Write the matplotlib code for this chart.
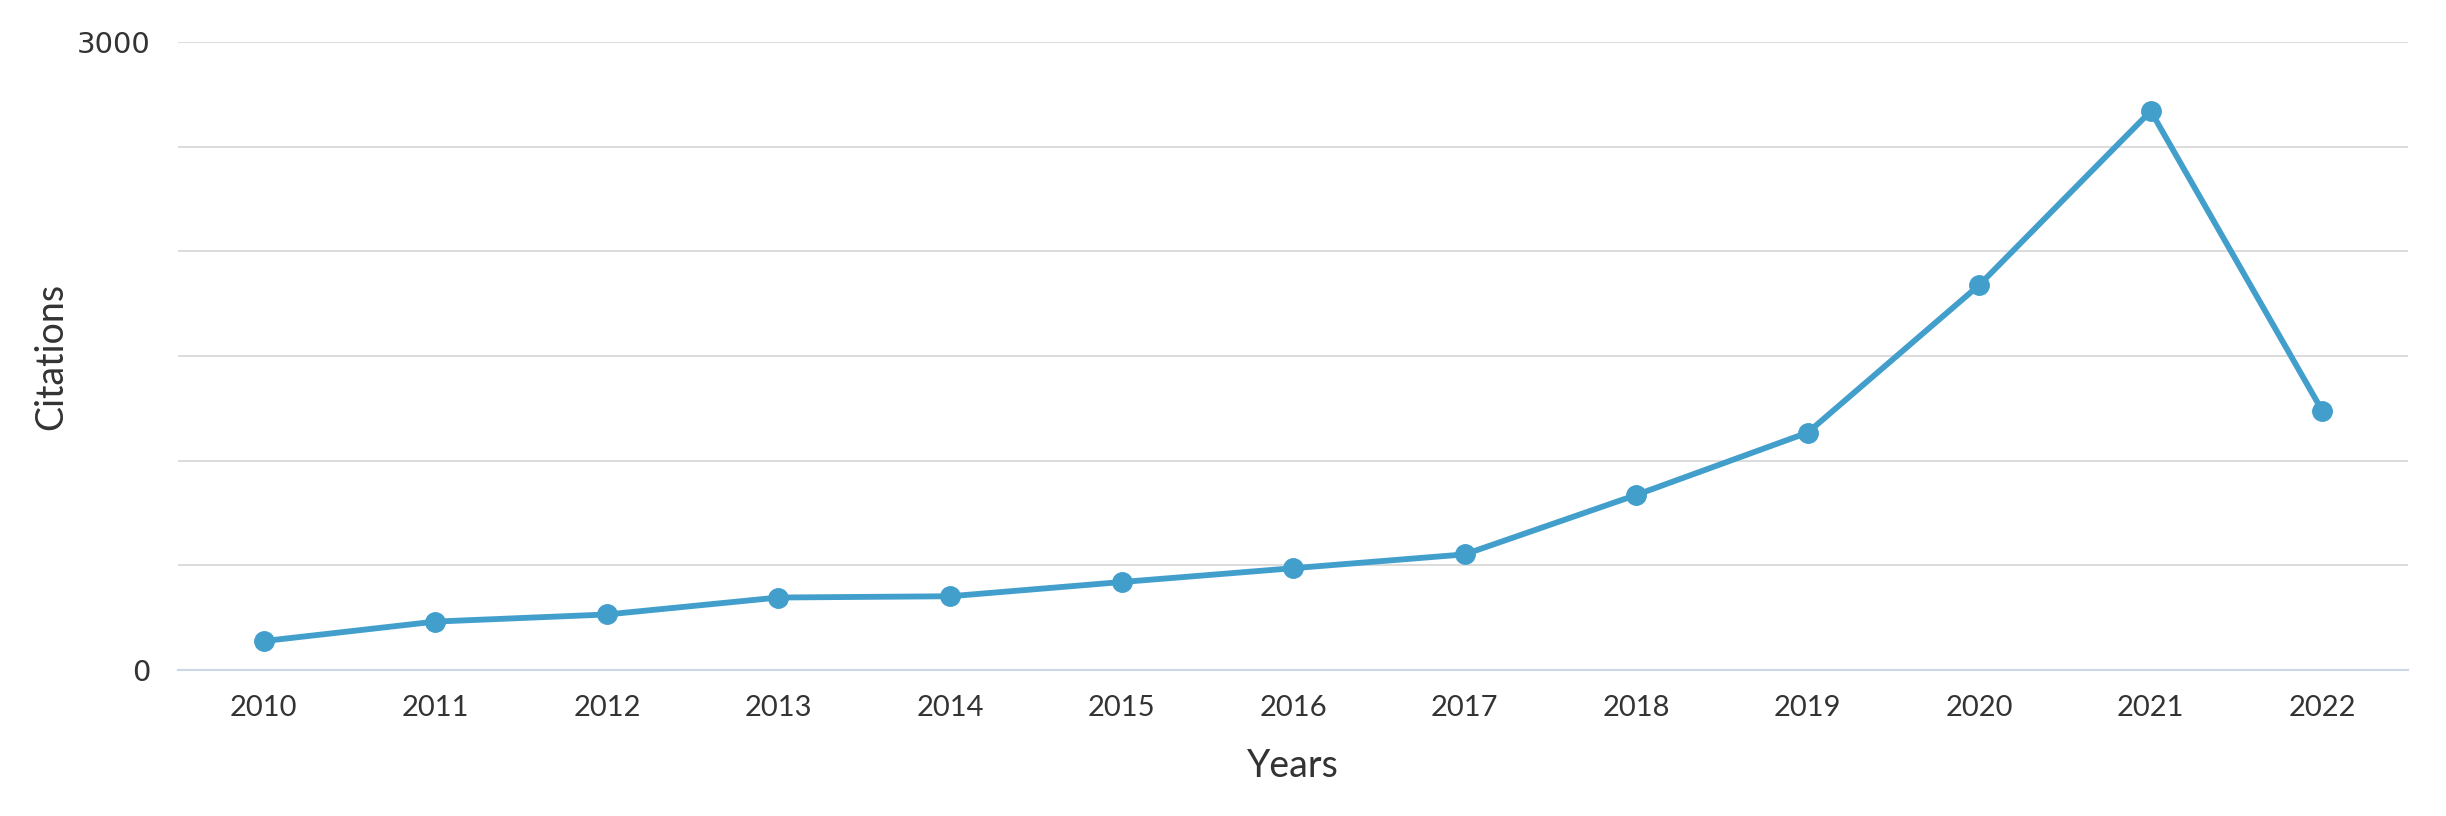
import matplotlib
matplotlib.use("Agg")
import matplotlib.pyplot as plt
from matplotlib.ticker import MultipleLocator, FuncFormatter

years = ["2010", "2011", "2012", "2013", "2014", "2015", "2016",
         "2017", "2018", "2019", "2020", "2021", "2022"]
citations = [138, 231, 265, 346, 352, 420, 486, 552, 836, 1134, 1839, 2670, 1238]

narrow = ["Lato", "DejaVu Sans"]

fig = plt.figure(figsize=(24.46, 8.16), dpi=100)
ax = fig.add_axes([0.0728, 0.179, 0.9117, 0.7695])

x = list(range(len(years)))
ax.plot(x, citations, color="#429fcc", lw=4.2, marker="o", markersize=14,
        solid_capstyle="round", zorder=3)

ax.set_xlim(-0.5, len(years) - 0.5)
ax.set_ylim(0, 3000)
ax.yaxis.set_major_locator(MultipleLocator(500))
ax.yaxis.set_major_formatter(FuncFormatter(lambda v, p: f"{int(v)}" if v in (0, 3000) else ""))
ax.set_xticks(x)
ax.set_xticklabels(years)

ax.grid(axis="y", color="#d9d9d9", lw=1.3)
ax.set_axisbelow(True)
for s in ["top", "right", "left"]:
    ax.spines[s].set_visible(False)
ax.spines["bottom"].set_color("#ccd6e6")
ax.spines["bottom"].set_linewidth(1.5)
ax.tick_params(axis="both", length=0, labelcolor="#333333")
ax.tick_params(axis="x", pad=18, labelsize=21, labelfontfamily="Lato")
ax.tick_params(axis="y", pad=20, labelsize=21, labelfontfamily="DejaVu Sans")

fig.text(0.5 * (0.0728 + 0.9845), 0.061, "Years", fontfamily=narrow, fontsize=27,
         color="#333333", ha="center", va="center")
fig.text(0.021, 0.179 + 0.7695 / 2, "Citations", fontfamily=narrow, fontsize=27,
         color="#333333", ha="center", va="center", rotation=90)

fig.savefig("out.png", dpi=100, facecolor="white")
